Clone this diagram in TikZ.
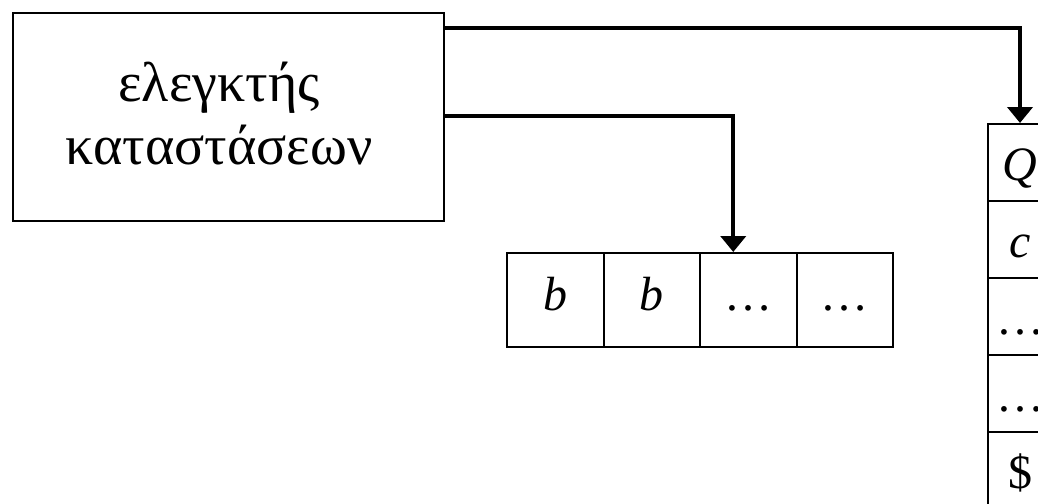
\documentclass[tikz,border=0pt]{standalone}
\usepackage{fontspec}
\setmainfont{Liberation Serif}
\usetikzlibrary{arrows.meta}
\begin{document}
\begin{tikzpicture}[x=1pt,y=-1pt,
  ctrlbox/.style={draw,line width=2pt,minimum width=431pt,minimum height=208pt,inner sep=0pt},
  ctrltext/.style={align=center,font=\fontsize{56}{63}\selectfont,inner sep=0pt},
  tapecell/.style={draw,line width=2pt,minimum width=96.5pt,minimum height=94pt,inner sep=0pt,
     font=\fontsize{48}{56}\selectfont,text height=30pt,text depth=10pt},
  stackcell/.style={draw,line width=2pt,minimum width=64pt,minimum height=77pt,inner sep=0pt,
     font=\fontsize{48}{56}\selectfont,text height=40pt,text depth=5pt},
  conn/.style={line width=4pt,-{Triangle[width=25pt,length=16pt]}}]
\clip (0,0) rectangle (1038,503);
\node[ctrlbox] (ctrl) at (228.5,117) {};
\node[ctrltext] (ctrllabel) at (219,114) {ελεγκτής\\καταστάσεων};
% tape
\node[tapecell] (t1) at (555.25,300) {\textit{b}};
\node[tapecell] (t2) at (651.75,300) {\textit{b}};
\node[tapecell] (t3) at (748.25,300) {…};
\node[tapecell] (t4) at (844.75,300) {…};
% stack
\node[stackcell] (s1) at (1020,162.5) {\textit{Q}};
\node[stackcell] (s2) at (1020,239.5) {\textit{c}};
\node[stackcell] (s3) at (1020,316.5) {…};
\node[stackcell] (s4) at (1020,393.5) {…};
\node[stackcell] (s5) at (1020,470.5) {\$};
% connectors
\draw[conn] (ctrl.north east) ++(0,16) -| (s1.north);
\draw[conn] (ctrl.north east) ++(0,104) -| ([xshift=-15pt]t3.north);
\end{tikzpicture}
\end{document}
